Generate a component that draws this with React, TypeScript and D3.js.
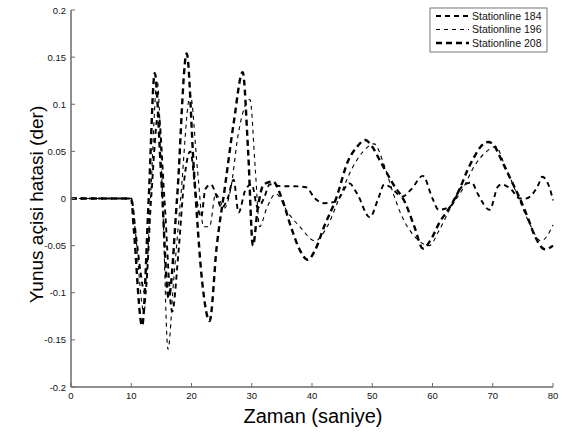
import React from 'react';
import * as d3 from 'd3';

const W = 564;
const H = 434;

// Stationline 184
const t184 = [0, 10, 10.8, 12.3, 13.3, 14.5, 15.5, 16.8, 17.8, 18.8, 19.8, 20.8, 21.6, 22.3, 23.2, 24.3, 25.0, 26.0, 27.0, 27.8, 29.0, 30.0, 31.0, 32.0, 33.0, 35.0, 37.0, 39.0, 40.5, 42.0, 44.0, 46.2, 47.5, 49.6, 51.0, 52.0, 53.0, 55.0, 56.5, 58.4, 60.0, 61.0, 63.0, 64.8, 66.5, 67.5, 69.5, 70.8, 71.5, 73.0, 74.5, 75.5, 77.6, 78.2, 79.5, 80];
const v184 = [0, 0, -0.04, -0.1, 0, 0.09, 0, -0.12, -0.06, 0.02, 0.05, 0, -0.02, 0.01, 0.015, 0, -0.01, 0, 0.02, -0.015, 0.01, 0.015, -0.01, 0, 0.015, 0.013, 0.013, 0.012, 0, -0.005, -0.003, 0.016, 0.005, -0.02, 0, 0.015, 0.012, 0.002, 0.01, 0.024, 0, -0.012, -0.008, 0.012, 0.017, 0.005, -0.012, 0.012, 0.015, 0.01, 0, 0, 0.015, 0.023, 0.01, -0.002];

// Stationline 196
const t196 = [0, 10, 10.6, 12.1, 13.2, 14.3, 15.2, 16.1, 17.0, 18.2, 19.8, 21.0, 22.0, 23.0, 24.0, 25.5, 26.5, 27.8, 29.7, 30.6, 31.3, 32.5, 34.0, 36.0, 38.0, 40.5, 42.5, 44.5, 46.5, 48.5, 50.3, 52.0, 53.5, 55.0, 57.0, 59.5, 61.0, 63.0, 65.0, 67.0, 69.0, 70.5, 72.0, 74.0, 76.0, 78.0, 79.0, 80];
const v196 = [0, 0, -0.03, -0.12, 0, 0.125, 0, -0.16, -0.09, 0, 0.11, 0.03, -0.03, -0.03, 0.005, -0.01, 0.01, 0.07, 0.105, 0.03, -0.03, -0.01, 0.005, -0.015, -0.03, -0.045, -0.03, 0, 0.03, 0.05, 0.058, 0.035, 0.005, -0.02, -0.04, -0.05, -0.035, -0.01, 0.01, 0.035, 0.05, 0.055, 0.035, 0.005, -0.025, -0.045, -0.04, -0.028];

// Stationline 208
const t208 = [0, 10, 10.4, 11.8, 12.9, 13.9, 15.0, 16.2, 17.6, 19.2, 20.4, 21.8, 23.0, 24.2, 25.5, 27.0, 28.5, 29.4, 30.2, 31.0, 32.0, 33.5, 35.0, 36.5, 38.0, 39.3, 40.5, 42.0, 44.0, 46.0, 47.5, 48.8, 50.0, 51.3, 53.5, 55.5, 57.0, 58.4, 59.6, 61.2, 62.8, 64.5, 65.8, 67.0, 68.0, 69.2, 70.0, 71.5, 73.0, 74.5, 75.8, 77.0, 78.7, 80];
const v208 = [0, 0, -0.03, -0.135, 0, 0.133, 0.02, -0.105, 0, 0.154, 0.03, -0.09, -0.13, -0.05, 0.01, 0.08, 0.134, 0.05, -0.05, -0.01, 0.015, 0.018, 0, -0.03, -0.055, -0.065, -0.055, -0.03, 0, 0.04, 0.055, 0.062, 0.055, 0.04, 0.015, -0.005, -0.03, -0.053, -0.045, -0.025, -0.01, 0.01, 0.03, 0.045, 0.055, 0.06, 0.058, 0.04, 0.02, 0, -0.02, -0.04, -0.054, -0.05];

const xTicks = [0, 10, 20, 30, 40, 50, 60, 70, 80];
const yTicks = [-0.2, -0.15, -0.1, -0.05, 0, 0.05, 0.1, 0.15, 0.2];
const seriesNames = ['Stationline 184', 'Stationline 196', 'Stationline 208'];

const series = [
  { name: seriesNames[0], t: t184, v: v184, width: 1.9, dash: '5,4' },
  { name: seriesNames[1], t: t196, v: v196, width: 1.1, dash: '4,4' },
  { name: seriesNames[2], t: t208, v: v208, width: 2.4, dash: '6,4' },
];

const left = 71;
const right = 553;
const top = 10;
const bottom = 387;

export default function App() {
  const x = d3.scaleLinear().domain([0, 80]).range([left, right]);
  const y = d3.scaleLinear().domain([-0.2, 0.2]).range([bottom, top]);
  const line = d3
    .line<[number, number]>()
    .x((d) => x(d[0]))
    .y((d) => y(d[1]))
    .curve(d3.curveMonotoneX);

  const axisColor = '#6a6a6a';
  const font = 'Liberation Sans, Arial, sans-serif';

  return (
    <svg
      width={W}
      height={H}
      style={{ position: 'absolute', left: 0, top: 0, background: '#fff' }}
      fontFamily={font}
    >
      <rect x={0} y={0} width={W} height={H} fill="#fff" />
      {/* data lines */}
      {series.map((s) => (
        <path
          key={s.name}
          d={line(s.t.map((t, i) => [t, s.v[i]] as [number, number])) || ''}
          fill="none"
          stroke="#000"
          strokeWidth={s.width}
          strokeDasharray={s.dash}
        />
      ))}
      {/* axes */}
      <line x1={left} x2={left} y1={y(0.2)} y2={y(-0.2)} stroke={axisColor} strokeWidth={1.5} />
      <line x1={left} x2={right} y1={y(-0.2)} y2={y(-0.2)} stroke={axisColor} strokeWidth={1.5} />
      {yTicks.map((v) => (
        <g key={'y' + v}>
          <line x1={left} x2={left + 4} y1={y(v)} y2={y(v)} stroke={axisColor} strokeWidth={1} />
          <text x={left - 5} y={y(v) + 3.5} fontSize={9.5} textAnchor="end" fill="#111">
            {v === 0 ? '0' : d3.format('')(v).replace('\u2212', '-')}
          </text>
        </g>
      ))}
      {xTicks.map((v) => (
        <g key={'x' + v}>
          <line x1={x(v)} x2={x(v)} y1={bottom} y2={bottom - 4} stroke={axisColor} strokeWidth={1} />
          <text x={x(v)} y={bottom + 12} fontSize={9.5} textAnchor="middle" fill="#111">
            {v}
          </text>
        </g>
      ))}
      <text x={313} y={423} fontSize={20} textAnchor="middle" fill="#000">
        Zaman (saniye)
      </text>
      <text
        transform={`translate(43, ${(top + bottom) / 2 + 6}) rotate(-90)`}
        fontSize={19}
        textAnchor="middle"
        fill="#000"
      >
        Yunus açisi hatasi (der)
      </text>
      {/* legend */}
      <rect x={430} y={8} width={117} height={44} fill="#fff" stroke="#555" strokeWidth={0.8} />
      {series.map((s, i) => (
        <g key={'lg' + s.name}>
          <line
            x1={436}
            x2={469}
            y1={16 + i * 13.5}
            y2={16 + i * 13.5}
            stroke="#000"
            strokeWidth={s.width}
            strokeDasharray={s.dash}
          />
          <text x={472} y={16 + i * 13.5 + 3.8} fontSize={10.5} fill="#111">
            {s.name}
          </text>
        </g>
      ))}
    </svg>
  );
}
